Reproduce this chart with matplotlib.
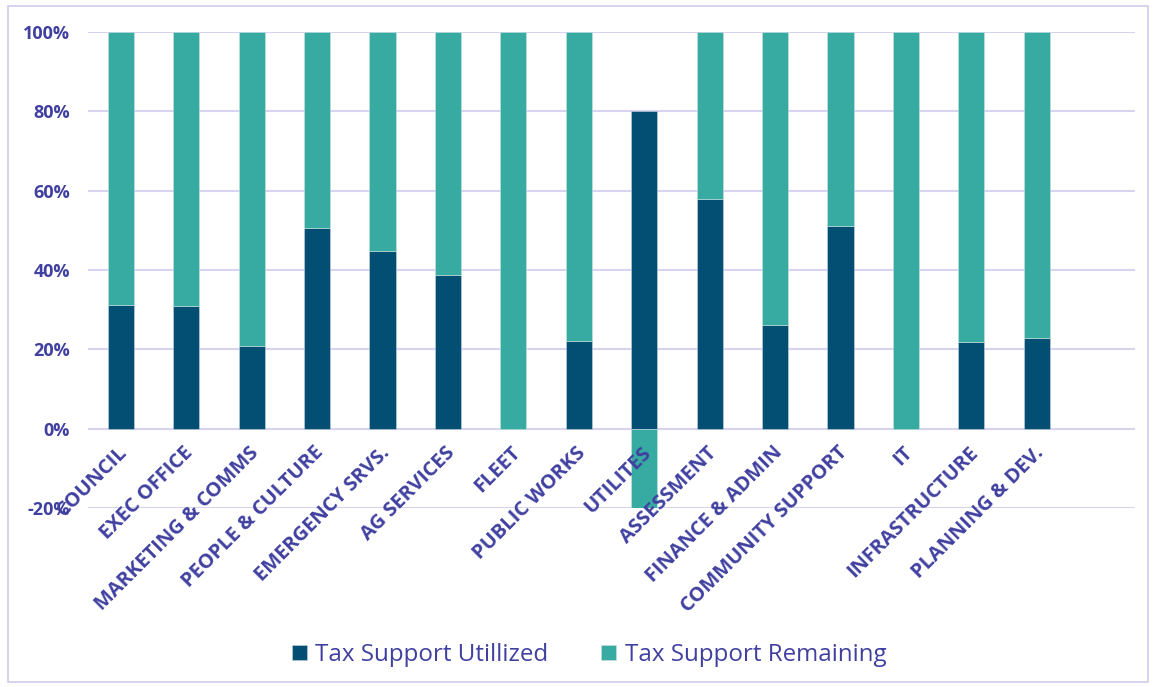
import numpy as np
import matplotlib.pyplot as plt
import matplotlib.transforms as mtransforms
from matplotlib.patches import Rectangle

departments = ['COUNCIL', 'EXEC OFFICE', 'MARKETING & COMMS', 'PEOPLE & CULTURE',
               'EMERGENCY SRVS.', 'AG SERVICES', 'FLEET', 'PUBLIC WORKS', 'UTILITES',
               'ASSESSMENT', 'FINANCE & ADMIN', 'COMMUNITY SUPPORT', 'IT',
               'INFRASTRUCTURE', 'PLANNING & DEV.']
utilized = [31.2, 30.8, 20.9, 50.5, 44.8, 38.8, 0.0, 22.2, 80.0,
            57.9, 26.2, 51.0, 0.0, 21.9, 22.8]
remaining = [68.8, 69.2, 79.1, 49.5, 55.2, 61.2, 100.0, 77.8, -20.0,
             42.1, 73.8, 49.0, 100.0, 78.1, 77.2]

dark = '#034f73'
teal = '#37aba2'
txt = '#4040a0'
grid = '#d8d4f0'

plt.rcParams['font.family'] = ['Open Sans', 'DejaVu Sans']

fig = plt.figure(figsize=(11.54, 6.87), dpi=100)
ax = fig.add_axes([88/1154, 1 - 508/687, (1135 - 88)/1154, (508 - 32)/687])

x = np.arange(len(departments))
util = np.array(utilized)
rem = np.array(remaining)
# negative remainder stacks down from zero, positive on top of utilized
rem_base = np.where(rem >= 0, util, 0)

ax.bar(x, util, width=0.4, color=dark, edgecolor='#c8d4e0', linewidth=0.4,
       label='Tax Support Utillized', zorder=3)
ax.bar(x, rem, bottom=rem_base, width=0.4, color=teal, edgecolor='#c8e4e0',
       linewidth=0.4, label='Tax Support Remaining', zorder=3)

ax.set_xlim(-0.5, 15.5)
ax.set_ylim(-20, 100)
ax.set_yticks(np.arange(-20, 101, 20))
ax.set_yticklabels([f'{v}%' for v in range(-20, 101, 20)])
ax.yaxis.grid(True, color=grid, linewidth=1.5, zorder=0)
ax.set_axisbelow(True)
for s in ax.spines.values():
    s.set_visible(False)
ax.tick_params(axis='y', length=0, pad=13, labelsize=13, labelcolor=txt)
for lab in ax.get_yticklabels():
    lab.set_fontweight('bold')

# category labels hang just under the zero line and sit on top of the bars
ax.set_xticks([])
offset = mtransforms.ScaledTranslation(-0.03, -0.14, fig.dpi_scale_trans)
for xi, name in zip(x, departments):
    ax.text(xi, 0, name, rotation=45, ha='right', va='top',
            rotation_mode='anchor', fontsize=14.5, fontweight='bold',
            color=txt, zorder=5, transform=ax.transData + offset)

ax.legend(loc='center', bbox_to_anchor=(0.5 + (589 - 611.5)/1047, -0.309),
          ncol=2, frameon=False, fontsize=17.4, handlelength=0.62,
          handleheight=0.62, handletextpad=0.35, columnspacing=2.2,
          labelcolor=txt)

fig.patches.append(Rectangle((8/1154, 5/687), 1140/1154, 676/687,
                             transform=fig.transFigure, fill=False,
                             edgecolor='#d0cceb', linewidth=1.2))

fig.savefig('out.png', dpi=100)
